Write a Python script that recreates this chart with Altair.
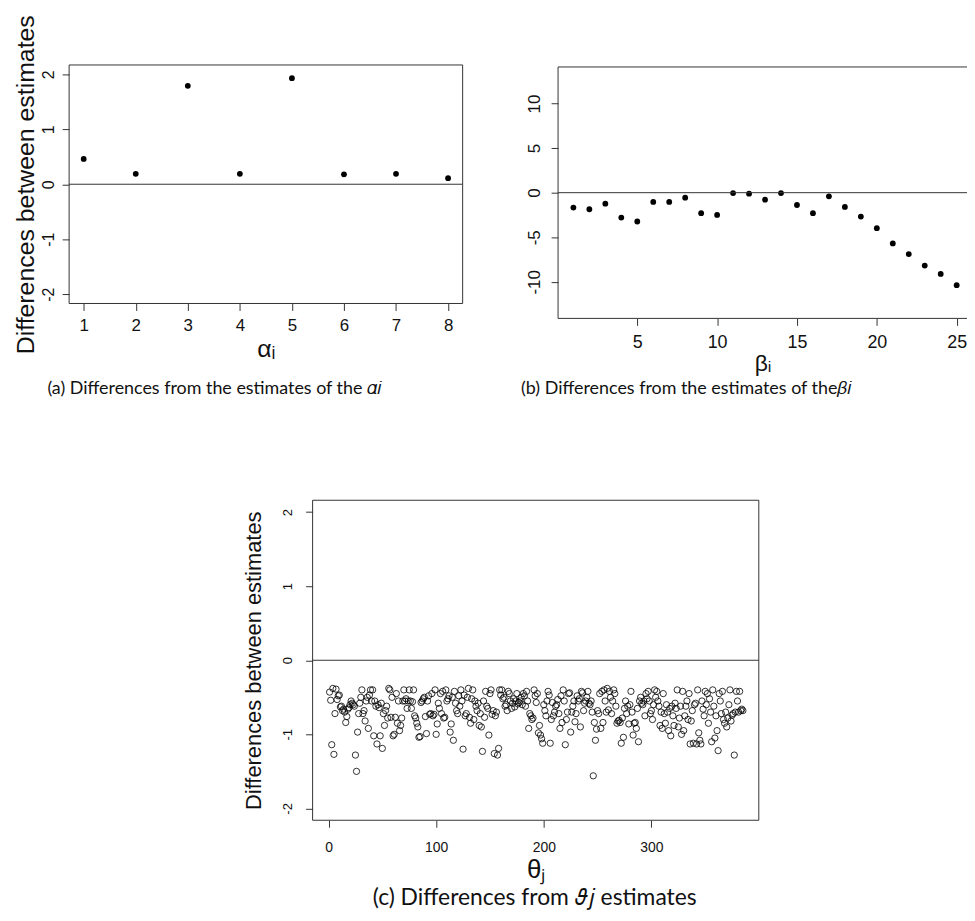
import altair as alt
import pandas as pd

# ---------------- data ----------------
alpha_idx = [1, 2, 3, 4, 5, 6, 7, 8]
alpha_diff = [0.46, 0.19, 1.79, 0.19, 1.93, 0.18, 0.19, 0.11]

beta_idx = list(range(1, 26))
beta_diff = [-1.67, -1.86, -1.23, -2.79, -3.23, -1.04, -1.04, -0.56, -2.30, -2.49,
             -0.04, -0.11, -0.78, -0.04, -1.38, -2.30, -0.41, -1.60, -2.68, -3.98,
             -5.69, -6.88, -8.18, -9.11, -10.37]

theta_diff = [
    -0.43, -0.54, -1.14, -0.38, -1.27, -0.72, -0.39, -0.53, -0.48, -0.47,
    -0.63, -0.62, -0.68, -0.66, -0.70, -0.84, -0.76, -0.66, -0.64, -0.60,
    -0.55, -0.58, -0.60, -0.62, -1.28, -1.50, -0.97, -0.72, -0.58, -0.50,
    -0.40, -0.72, -0.68, -0.82, -0.55, -0.50, -0.92, -0.47, -0.40, -0.55,
    -0.40, -1.02, -0.55, -0.62, -1.13, -0.60, -0.64, -1.02, -0.58, -1.19,
    -0.72, -0.88, -0.68, -0.62, -0.78, -0.38, -0.40, -0.77, -0.50, -1.02,
    -1.00, -0.77, -0.45, -0.85, -0.55, -0.95, -0.88, -0.78, -0.55, -0.40,
    -0.55, -0.52, -0.65, -0.55, -0.40, -0.55, -0.65, -0.56, -0.40, -0.75,
    -0.78, -0.85, -0.90, -1.04, -1.03, -0.57, -0.55, -0.52, -0.50, -0.76,
    -0.99, -0.55, -0.48, -0.73, -0.72, -0.45, -0.75, -0.73, -0.40, -1.00,
    -0.86, -0.58, -0.65, -0.45, -0.72, -0.42, -0.78, -0.77, -0.40, -0.55,
    -0.52, -0.48, -0.97, -0.86, -0.50, -1.08, -0.42, -0.58, -0.68, -0.72,
    -0.48, -0.62, -0.40, -0.55, -1.20, -0.47, -0.75, -0.72, -0.50, -0.38,
    -0.77, -0.85, -0.52, -0.40, -0.80, -0.55, -0.62, -0.68, -0.58, -0.88,
    -0.72, -0.90, -1.23, -0.55, -0.77, -0.42, -0.62, -0.65, -1.01, -0.45,
    -0.40, -0.73, -0.68, -1.26, -0.75, -0.70, -1.28, -1.19, -0.40, -0.47,
    -0.40, -0.52, -0.50, -0.62, -0.60, -0.68, -0.42, -0.45, -0.55, -0.65,
    -0.58, -0.52, -0.63, -0.55, -0.45, -0.59, -0.57, -0.55, -0.50, -0.60,
    -0.45, -0.48, -0.62, -0.42, -0.55, -0.92, -0.72, -0.75, -0.80, -0.78,
    -0.40, -0.48, -0.57, -0.45, -0.98, -0.88, -1.01, -1.06, -1.12, -0.60,
    -0.68, -0.75, -0.55, -0.42, -0.47, -1.12, -0.80, -0.57, -0.75, -0.70,
    -0.62, -0.60, -0.53, -0.72, -0.92, -0.48, -0.84, -0.40, -0.55, -1.14,
    -0.80, -0.70, -0.45, -0.44, -0.97, -0.70, -0.62, -0.55, -0.83, -0.72,
    -0.48, -0.55, -0.52, -0.90, -0.42, -0.44, -0.68, -0.58, -0.55, -0.50,
    -0.42, -0.58, -0.60, -0.55, -0.70, -1.56, -0.84, -1.08, -0.93, -0.68,
    -0.72, -0.45, -0.92, -0.42, -0.84, -0.40, -0.55, -0.70, -0.38, -0.67,
    -0.42, -0.50, -0.72, -0.55, -0.40, -0.45, -0.62, -0.85, -0.82, -0.81,
    -0.84, -1.12, -0.78, -1.04, -0.65, -0.55, -0.72, -0.62, -0.86, -0.60,
    -0.42, -0.70, -1.01, -0.85, -0.84, -0.92, -0.65, -1.10, -0.55, -0.50,
    -0.58, -0.60, -0.55, -0.75, -0.45, -0.52, -0.42, -0.55, -0.72, -0.68,
    -0.80, -0.60, -0.40, -0.50, -0.42, -0.55, -0.62, -0.88, -0.70, -0.92,
    -0.45, -0.72, -0.85, -0.60, -0.70, -0.95, -0.65, -1.02, -0.62, -0.75,
    -0.88, -0.58, -0.65, -0.40, -0.90, -0.78, -0.62, -1.00, -0.42, -0.95,
    -0.75, -0.62, -0.55, -0.80, -0.45, -1.13, -0.82, -0.68, -1.12, -0.60,
    -0.58, -1.13, -0.40, -0.98, -1.08, -1.13, -0.55, -0.66, -0.75, -0.42,
    -0.60, -0.45, -0.85, -0.52, -0.70, -1.10, -0.40, -0.62, -1.05, -0.75,
    -0.95, -1.22, -0.45, -0.55, -0.72, -0.42, -0.80, -0.85, -0.70, -0.90,
    -0.78, -0.60, -0.40, -0.82, -0.74, -0.72, -1.28, -0.70, -0.42, -0.55,
    -0.70, -0.42, -0.68, -0.66, -0.68,
]
theta_idx = list(range(1, len(theta_diff) + 1))

alpha_ticks = [1, 2, 3, 4, 5, 6, 7, 8]
alpha_yticks = [-2, -1, 0, 1, 2]
beta_ticks = [5, 10, 15, 20, 25]
beta_yticks = [-10, -5, 0, 5, 10]
theta_ticks = [0, 100, 200, 300]
theta_yticks = [-2, -1, 0, 1, 2]

caption_a = "(a) Differences from the estimates of the 𝛼𝑖"
caption_b = "(b) Differences from the estimates of the𝛽𝑖"
caption_c = "(c) Differences from 𝜗𝑗 estimates"

df_a = pd.DataFrame({"i": alpha_idx, "d": alpha_diff})
df_b = pd.DataFrame({"i": beta_idx, "d": beta_diff})
df_c = pd.DataFrame({"i": theta_idx, "d": theta_diff})
zero_df = pd.DataFrame({"d": [0]})
one = pd.DataFrame({"k": [0]})

# ---------------- layout (svg pixel coords) ----------------
W, H = 965, 908
FONT = "Liberation Sans"
CAPFONT = "Lato"
INK = "#111111"
FRAME = "#333333"
HYPHEN = "replace(datum.label, '\u2212', '-')"

common_axis = dict(domain=False, grid=False, ticks=True, tickSize=7, tickColor=FRAME,
                   labelColor=INK, labelFont=FONT, titleFont=FONT,
                   titleFontWeight="normal", titleColor=INK,
                   labelFlush=False, labelOverlap=False, labelExpr=HYPHEN)


def panel(df, xdom, xr, ydom, yr, xvals, yvals, xlab_size, xlab_pad, ylab_size, ylab_pad,
          xtitle, xtitle_size, xtitle_y, ytitle, ytitle_size, ytitle_x, point_mark, box):
    xs = alt.Scale(domain=xdom, range=xr, nice=False, zero=False)
    ys = alt.Scale(domain=ydom, range=yr, nice=False, zero=False)
    xaxis = alt.Axis(orient="bottom", offset=yr[0] - H, values=xvals,
                     labelFontSize=xlab_size, labelPadding=xlab_pad, labelBaseline="top",
                     title=xtitle, titleFontSize=xtitle_size, titleBaseline="alphabetic",
                     titleY=xtitle_y, **common_axis)
    yargs = dict(orient="left", offset=-xr[0], values=yvals, labelAngle=270,
                 labelAlign="center", labelBaseline="alphabetic",
                 labelFontSize=ylab_size, labelPadding=ylab_pad, **common_axis)
    if ytitle:
        yaxis = alt.Axis(title=ytitle, titleFontSize=ytitle_size, titleX=ytitle_x,
                         titleBaseline="alphabetic", titleAngle=270, **yargs)
    else:
        yaxis = alt.Axis(title="", **yargs)
    pts = point_mark(alt.Chart(df)).encode(
        x=alt.X("i:Q", scale=xs, axis=xaxis), y=alt.Y("d:Q", scale=ys, axis=yaxis))
    zero = alt.Chart(zero_df).mark_rule(color=FRAME, strokeWidth=1).encode(
        y=alt.Y("d:Q", scale=ys, axis=yaxis), x=alt.value(xr[0]), x2=alt.value(xr[1]))
    return alt.layer(pts, zero, *box)


def rect_box(x0, x1, y0, y1):
    return [alt.Chart(one).mark_rect(fillOpacity=0, stroke=FRAME, strokeWidth=1).encode(
        x=alt.value(x0), x2=alt.value(x1), y=alt.value(y0), y2=alt.value(y1))]


def open_box(x0, x1, y0, y1):
    r = lambda: alt.Chart(one).mark_rule(color=FRAME, strokeWidth=1)
    return [
        r().encode(x=alt.value(x0), x2=alt.value(x1), y=alt.value(y0)),
        r().encode(x=alt.value(x0), x2=alt.value(x1), y=alt.value(y1)),
        r().encode(x=alt.value(x0), y=alt.value(y0), y2=alt.value(y1)),
    ]


dot = lambda c: c.mark_circle(size=34, color="black", opacity=1)
ring = lambda c: c.mark_point(shape="circle", filled=False, size=40, color="black",
                              strokeWidth=0.8, opacity=1)

# panel a
ax0, ax1, ay0, ay1 = 61.5, 457.5, 294.5, 54.5
pa = panel(df_a, [0.72, 8.28], [ax0, ax1], [-2.17, 2.17], [ay0, ay1],
           alpha_ticks, alpha_yticks, 17, 7, 16, 9,
           "αᵢ", 25, 53, "Differences between estimates", 25, -36, dot,
           rect_box(ax0, ax1, ay1, ay0))

# panel b (right edge cut off as in reference)
bx0, bx1, by0, by1 = 553.5, 965, 309.5, 56.5
b_unit = 16.07
pb = panel(df_b, [0.04, 0.04 + (bx1 - bx0) / b_unit], [bx0, bx1], [-14.1, 14.1], [by0, by1],
           beta_ticks, beta_yticks, 18, 8, 17, 12,
           "βᵢ", 23, 52, None, 0, 0, dot,
           open_box(bx0, bx1, by1, by0))

# panel c
cx0, cx1, cy0, cy1 = 306.5, 755.5, 814.5, 492.5
pc = panel(df_c, [-14.8, 399.8], [cx0, cx1], [-2.16, 2.16], [cy0, cy1],
           theta_ticks, theta_yticks, 14, 13, 13, 14,
           "θⱼ", 26, 58, "Differences between estimates", 22, -52, ring,
           rect_box(cx0, cx1, cy1, cy0))


def caption(text, x, y, size):
    return alt.Chart(one).mark_text(text=text, font=CAPFONT, fontSize=size, align="center",
                                    baseline="middle", color=INK).encode(
        x=alt.value(x), y=alt.value(y))


chart = alt.layer(
    pa, pb, pc,
    caption(caption_a, 208, 381, 18),
    caption(caption_b, 683, 381, 18),
    caption(caption_c, 530, 893, 23),
).resolve_scale(x="independent", y="independent").properties(
    width=W, height=H, autosize=alt.AutoSizeParams(type="none"), padding=0,
    background="white",
).configure_view(strokeWidth=0)

chart.save("out.html", embed_options={"renderer": "svg", "actions": False})
